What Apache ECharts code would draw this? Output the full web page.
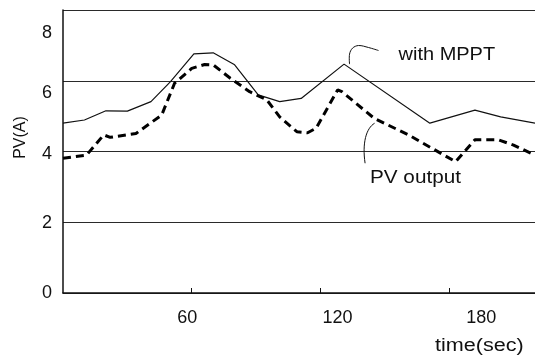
<!DOCTYPE html>
<html>
<head>
<meta charset="utf-8">
<script src="https://cdn.jsdelivr.net/npm/echarts@6/dist/echarts.min.js"></script>
<style>
  html, body { margin: 0; padding: 0; background: #fff; }
  #chart { width: 535px; height: 356px; }
</style>
</head>
<body>
<div id="chart"></div>
<script>
// PV current traces over time (seconds, amperes)
const mpptTime    = [0, 10, 20, 30, 41, 50, 61, 70, 80, 91, 101, 111, 131, 171, 192, 204, 220];
const mpptCurrent = [4.80, 4.89, 5.15, 5.14, 5.41, 5.97, 6.76, 6.79, 6.45, 5.60, 5.41, 5.50, 6.47, 4.80, 5.17, 4.98, 4.80];

const pvTime    = [0, 11, 19, 22, 34, 46, 52, 60, 66, 70, 78, 87, 95, 101, 109, 114, 118, 128, 130, 145, 161, 183, 192, 203, 210, 220];
const pvCurrent = [3.81, 3.90, 4.47, 4.40, 4.51, 5.03, 5.93, 6.35, 6.46, 6.45, 6.07, 5.69, 5.46, 4.98, 4.56, 4.53, 4.66, 5.74, 5.69, 4.94, 4.47, 3.71, 4.33, 4.33, 4.18, 3.90];

const timeTicks = [60, 120, 180];
const currentTicks = [0, 2, 4, 6, 8];

const FONT = '"Liberation Sans", Arial, Helvetica, sans-serif';
const INK = '#111';
const TICK_FONT = 18;

// per-label nudges (px) for the tick text
const xLabelShift = { 60: -4.5, 120: 17, 180: 32 };
const yLabelShift = { 0: 0, 2: 0.5, 4: 3, 6: 12, 8: 23 };

const xRich = {};
timeTicks.forEach(v => {
  const s = xLabelShift[v] || 0;
  xRich['t' + v] = {
    fontFamily: FONT, fontSize: TICK_FONT, color: INK,
    padding: s >= 0 ? [0, 0, 0, 2 * s] : [0, -2 * s, 0, 0]
  };
});
const yRich = {};
currentTicks.forEach(v => {
  const s = yLabelShift[v] || 0;
  yRich['c' + v] = {
    fontFamily: FONT, fontSize: TICK_FONT, color: INK,
    padding: [2 * s, 0, 0, 0]
  };
});

const chart = echarts.init(document.getElementById('chart'), null, { renderer: 'canvas' });

chart.setOption({
  animation: false,
  backgroundColor: '#fff',
  grid: { left: 63, top: 10, right: 0, bottom: 63, containLabel: false },
  xAxis: {
    type: 'value',
    min: 0,
    max: 220,
    interval: 60,
    axisLine: { show: true, lineStyle: { color: INK, width: 1.5 } },
    axisTick: { show: true, inside: true, length: 5, lineStyle: { color: INK, width: 1 } },
    splitLine: { show: false },
    axisLabel: {
      show: true,
      margin: 16,
      showMinLabel: false,
      showMaxLabel: false,
      fontFamily: FONT, fontSize: TICK_FONT, color: INK,
      formatter: v => timeTicks.includes(v) ? '{t' + v + '|' + v + '}' : '',
      rich: xRich
    }
  },
  yAxis: {
    type: 'value',
    min: 0,
    max: 8,
    interval: 2,
    axisLine: { show: true, lineStyle: { color: INK, width: 1.5 } },
    axisTick: { show: false },
    splitLine: { show: true, lineStyle: { color: '#2a2a2a', width: 1.2 } },
    axisLabel: {
      show: true,
      margin: 11,
      fontFamily: FONT, fontSize: TICK_FONT, color: INK,
      formatter: v => '{c' + v + '|' + v + '}',
      rich: yRich
    }
  },
  series: [
    {
      name: 'with MPPT',
      type: 'line',
      data: mpptTime.map((t, i) => [t, mpptCurrent[i]]),
      showSymbol: false,
      silent: true,
      lineStyle: { color: INK, width: 1.2 },
      z: 3
    },
    {
      name: 'PV output',
      type: 'line',
      data: pvTime.map((t, i) => [t, pvCurrent[i]]),
      showSymbol: false,
      silent: true,
      lineStyle: { color: '#000', width: 3, type: [8, 5], cap: 'butt' },
      z: 4
    }
  ]
});

// callouts anchored to points on the curves
const mpptPeak = chart.convertToPixel({ gridIndex: 0 }, [mpptTime[12], mpptCurrent[12]]);
const pvPoint = chart.convertToPixel({ gridIndex: 0 }, [pvTime[19], pvCurrent[19]]);

const textStyle = (txt) => ({
  text: txt, x: 0, y: 0,
  fontFamily: FONT, fontSize: 18, fill: INK,
  verticalAlign: 'middle', align: 'left'
});

const mx = mpptPeak[0], my = mpptPeak[1];
const px = pvPoint[0], py = pvPoint[1];

chart.setOption({
  graphic: [
    {
      type: 'polyline',
      silent: true,
      shape: {
        points: [[mx + 5.5, my], [mx + 5.5, my - 10], [mx + 8.5, my - 16], [mx + 14.5, my - 18.6], [mx + 24.5, my - 16.6], [mx + 34.5, my - 13.6]],
        smooth: 0.35
      },
      style: { stroke: INK, lineWidth: 1, fill: null }
    },
    {
      type: 'text',
      silent: true,
      x: mx + 54.5, y: my - 9.5,
      scaleX: 1.11,
      style: textStyle('with MPPT')
    },
    {
      type: 'bezierCurve',
      silent: true,
      shape: {
        x1: px + 0.5, y1: py + 5,
        cpx1: px - 8, cpy1: py + 10,
        cpx2: px - 12, cpy2: py + 25,
        x2: px - 9, y2: py + 45
      },
      style: { stroke: INK, lineWidth: 1, fill: null }
    },
    {
      type: 'text',
      silent: true,
      x: 370, y: 178,
      scaleX: 1.15,
      style: textStyle('PV output')
    },
    {
      type: 'text',
      silent: true,
      x: 435, y: 346,
      scaleX: 1.2,
      style: textStyle('time(sec)')
    },
    {
      type: 'text',
      silent: true,
      x: 20.5, y: 137.5,
      rotation: Math.PI / 2,
      style: {
        text: 'PV(A)', x: 0, y: 0,
        fontFamily: FONT, fontSize: 16, fill: INK,
        verticalAlign: 'middle', align: 'center'
      }
    }
  ]
});
</script>
</body>
</html>
